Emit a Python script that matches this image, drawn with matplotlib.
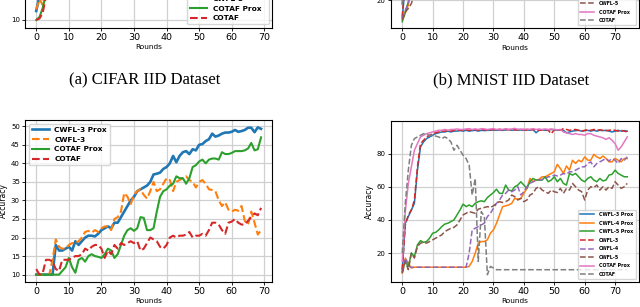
import numpy as np
import matplotlib
matplotlib.use("Agg")
import matplotlib.pyplot as plt

# ---- (a) CIFAR IID : only the first rounds are visible in the crop ----
cifar_iid_rounds = [0, 1, 2, 3, 4, 5]
cifar_iid_cwfl3_prox = [13.0, 18.0, 17.0, 24.0, 30.0, 35.0]
cifar_iid_cwfl3 = [13.5, 17.0, 15.0, 22.0, 29.0, 34.0]
cifar_iid_cotaf_prox = [10.0, 11.0, 14.0, 19.0, 25.0, 30.0]
cifar_iid_cotaf = [10.0, 10.5, 12.5, 18.0, 24.0, 29.0]

# ---- (b) MNIST IID : only the first rounds are visible in the crop ----
mnist_iid_rounds = [0, 1, 2, 3, 4, 5]
mnist_iid_cwfl3_prox = [9.0, 30.0, 60.0, 80.0, 88.0, 90.0]
mnist_iid_cwfl4_prox = [8.0, 12.0, 17.0, 30.0, 55.0, 75.0]
mnist_iid_cwfl5_prox = [7.0, 13.0, 19.0, 35.0, 60.0, 78.0]
mnist_iid_cwfl3 = [10.0, 32.0, 62.0, 82.0, 89.0, 91.0]
mnist_iid_cwfl4 = [9.0, 14.0, 18.0, 32.0, 56.0, 76.0]
mnist_iid_cwfl5 = [8.0, 13.0, 15.0, 18.0, 24.0, 50.0]
mnist_iid_cotaf_prox = [18.0, 45.0, 70.0, 85.0, 90.0, 92.0]
mnist_iid_cotaf = [17.0, 55.0, 78.0, 88.0, 91.0, 92.0]

# ---- CIFAR non-IID (bottom left), rounds 0..69 ----
cifar_rounds = list(range(70))
cifar_cwfl3_prox = [
    10, 10, 10, 10, 10, 10, 18, 16.5, 16.5, 17, 17.5, 16.5, 19, 18, 19, 20, 20.5, 20.5, 20.3, 21,
    22, 22.5, 23, 22.5, 24, 24, 25.5, 27, 28.5, 30, 31, 32.5, 33, 33.5, 34, 35, 37, 37.2, 37.5, 38.5,
    39, 40, 42, 40.3, 42, 43, 43.3, 42.5, 43.8, 43.5, 45, 45.2, 46, 46.5, 48, 47.2, 47.5, 48, 48.3, 48.3,
    48.5, 49, 48.5, 48.7, 49, 49.6, 49.6, 48.4, 49.7, 49.3]
cifar_cwfl3 = [
    10, 10, 10, 10, 10, 14, 19.5, 17.5, 17, 17, 18, 18.5, 18.5, 19, 20, 21.5, 21.8, 21.3, 22, 21.5,
    22.5, 23, 23, 22, 25, 25.5, 27, 32, 31, 29, 31.5, 32.5, 33, 31.5, 30.5, 32.5, 35, 32.5, 33, 34.5,
    36, 35.5, 32.5, 35, 35.5, 36, 36.5, 35.5, 35, 33.5, 35, 35.5, 34.5, 33, 32.8, 32.5, 30, 28.5, 29.5, 27.5,
    27, 27.5, 27.2, 28.5, 24.5, 23.5, 27, 24, 20.8, 22]
cifar_cotaf_prox = [
    10, 10, 10, 10, 10, 10, 10, 10, 11, 12, 14.5, 12, 10.5, 14, 14.5, 13.5, 15, 15.5, 15, 14.8,
    14.5, 15.5, 17, 16.5, 14.5, 15.5, 18, 20.5, 22, 22.5, 21.8, 22.5, 25.5, 25.3, 22, 22, 22.5, 27, 31, 32.5,
    33, 34, 34.5, 36.5, 36, 36, 34.5, 36, 39, 39.5, 40.5, 41, 40, 41, 41.3, 41.3, 41, 43, 42.5, 42.5,
    42.8, 43.3, 43.3, 43.3, 43.5, 44, 45.5, 43.5, 43.8, 47]
cifar_cotaf = [
    11.5, 10, 10.5, 14, 14, 13.5, 11.5, 11, 14, 14, 14, 14.5, 15, 15, 15.5, 17, 16.5, 17.5, 18, 18,
    17, 14.5, 16.5, 15.5, 18, 17, 18.5, 18, 18.5, 19, 18.5, 19, 16.5, 17, 18.5, 20, 19.5, 19, 17.5, 17,
    18, 20, 20.5, 20, 20.5, 20.5, 20.8, 21.5, 20, 20.5, 20.5, 21, 20.5, 22, 24, 24, 23.5, 22, 21, 24,
    24.3, 25, 24, 23.5, 23.5, 24.5, 25.5, 26.5, 26, 28]

# ---- MNIST non-IID (bottom right), rounds 0..74 ----
mnist_rounds = list(range(75))
mnist_cwfl3_prox = [
    10, 38, 42, 46, 50, 70, 84, 87, 89, 90, 91, 92, 92.5, 93, 93, 93.5, 93, 93.5, 93.5, 93.8,
    93.5, 94, 93.5, 93.8, 94, 93.5, 94, 93.8, 94, 94, 94.2, 94, 94.3, 94, 94.2, 94.5, 94, 94.3, 94, 94.2,
    94, 94.3, 94, 94.5, 92.5, 94, 94.3, 94, 94.2, 94.5, 94.3, 94, 94.2, 94, 92.5, 93, 93.5, 93.8, 94, 93.5,
    93.8, 94, 93.5, 94, 93.5, 94, 93.8, 94, 93.5, 93, 93.5, 94, 93.5, 93.8, 93.5]
mnist_cwfl4_prox = [
    8, 17, 14, 11, 11.5, 11.5, 11.5, 11.5, 11.5, 11.5, 11.5, 11.5, 11.5, 11.5, 11.5, 11.5, 11.5, 11.5, 11.5, 11.5,
    11.5, 11.5, 12, 15, 20, 26, 27, 27, 28, 32, 34, 38, 43, 48, 48.5, 49, 50, 53, 52.5, 53,
    56, 59, 65, 63, 64, 64.5, 66, 66, 67, 68, 69, 73.5, 71, 68, 72.5, 70, 76, 74, 76, 75,
    78, 76, 76, 79.5, 78, 77, 78.5, 77, 75, 75, 77, 76, 75, 77, 77]
mnist_cwfl5_prox = [
    9, 15, 12, 20, 18, 25, 27.5, 26.5, 27, 29, 32, 32.5, 34, 36, 37.5, 38, 39, 40, 43, 46,
    49.5, 48, 49, 48, 50, 51, 51.5, 51, 53.5, 55, 56.5, 58.5, 56, 56, 61, 58, 57.5, 60, 61, 63,
    61, 59, 63, 65, 64, 64, 64, 66, 63, 64, 66, 63, 65, 62, 61, 68, 67, 68, 66, 64,
    63, 65, 66, 64, 63, 65, 63.5, 64, 67, 67.5, 70, 68, 67, 66, 66]
mnist_cwfl3 = [
    10, 37, 43, 46, 52, 72, 86, 88, 90, 91, 92, 92.5, 93, 93.5, 93.5, 94, 93.5, 94, 94, 94.2,
    94, 94.3, 94, 94.2, 94.5, 94, 94.3, 94.5, 94, 94.3, 94.5, 94.2, 94.5, 94.3, 94.5, 94.3, 94.5, 94.2, 94.5, 94.3,
    94.5, 94, 94.5, 94.3, 94.5, 94, 94.3, 94.5, 94, 92, 94.3, 94.5, 94, 95, 94.5, 94, 94.3, 94.5, 94, 93.5,
    94, 94.3, 94, 94.5, 94, 94.3, 94, 93.8, 94, 94.3, 94, 93.5, 94, 93.5, 93]
mnist_cwfl4 = [
    8, 17, 12, 11.5, 11.5, 11.5, 11.5, 11.5, 11.5, 11.5, 11.5, 11.5, 11.5, 11.5, 11.5, 11.5, 11.5, 11.5, 11.5, 11.5,
    11.5, 11.5, 20, 34, 35, 36, 37, 38, 42, 44, 47, 50, 52, 55, 56, 58, 57, 58, 60, 55,
    57, 60, 62, 63, 64, 64, 64.5, 65, 66, 66, 67, 66.5, 67, 68, 67.5, 69, 69, 70, 71, 72,
    72, 74, 75, 72, 74, 75, 76, 77, 75.5, 77, 76, 74, 77, 76, 78]
mnist_cwfl5 = [
    8, 15, 10, 20, 17, 24, 26, 26.5, 26, 27, 28, 29, 30, 31, 33, 34, 35, 35.5, 37, 40,
    43, 44, 45, 44.5, 44, 46.5, 47, 47.5, 48, 47.5, 48.5, 50, 51, 50.5, 51, 52, 55, 54, 52, 53,
    51, 52, 55, 56, 59, 60, 58, 57, 56, 58, 57, 56.5, 59, 56, 59, 58, 62, 60, 58, 57,
    52, 58, 60, 59.5, 61, 58, 60, 58, 60, 59, 63, 61, 59, 60, 62]
mnist_cotaf_prox = [
    15, 45, 62, 72, 82, 86, 90, 91, 92, 92.5, 93, 93.5, 94, 94, 94.5, 94, 94.5, 94.5, 94.8, 94.5,
    94.5, 94.8, 95, 94.5, 94.8, 94.5, 95, 94.8, 94.5, 94.8, 95, 94.5, 94.8, 94.5, 95, 94.5, 94.8, 95.2, 94.5, 94.8,
    94.5, 94.8, 94.5, 95, 94.5, 94.8, 94.5, 94.8, 94.5, 94.8, 94.5, 94.3, 94.5, 93, 92.5, 92, 91.5, 92, 91.5, 91.5,
    91, 92, 92, 91, 90.5, 90, 89.5, 88.5, 89.5, 88, 86, 82, 84, 87, 90]
mnist_cotaf = [
    20, 50, 70, 85, 89, 90, 91, 92, 91.5, 91, 91, 90.5, 90, 89, 90, 89, 87, 82, 85, 82,
    79, 77, 73, 55, 65, 15, 45, 42, 7, 12, 11, 10, 10, 10, 10, 10, 10, 10, 10, 10,
    10, 10, 10, 10, 10, 10, 10, 10, 10, 10, 10, 10, 10, 10, 10, 10, 10, 10, 10, 10,
    10, 10, 10, 10, 10, 10, 10, 10, 10, 10, 10, 10, 10, 10, 10]

captions = ["(a) CIFAR IID Dataset", "(b) MNIST IID Dataset"]

W, H = 640, 307


def px_axes(fig, left, right, top, bottom):
    # pixel box (y from the top) -> figure fraction
    return fig.add_axes([left / W, 1 - bottom / H, (right - left) / W, (bottom - top) / H])


def style_axes(ax, ylabel=True):
    ax.grid(True, color="#d0d0d0", linewidth=0.9)
    ax.set_axisbelow(True)
    ax.set_xticks(range(0, 80, 10))
    ax.tick_params(axis="x", labelsize=6.8, length=2.5, pad=1.2, width=0.6)
    ax.tick_params(axis="y", labelsize=5.0, length=2.5, pad=1.2, width=0.6)
    for sp in ax.spines.values():
        sp.set_linewidth(0.8)
    ax.set_xlabel("Rounds", fontsize=5.3, labelpad=1.5)
    if ylabel:
        ax.set_ylabel("Accuracy", fontsize=5.5, labelpad=2)


def cifar_plot(ax, r, s1, s2, s3, s4, lw=1.5):
    ax.plot(r, s1, color="C0", lw=lw + 0.4, label="CWFL-3 Prox")
    ax.plot(r, s2, color="C1", lw=lw, ls="--", label="CWFL-3")
    ax.plot(r, s3, color="C2", lw=lw, label="COTAF Prox")
    ax.plot(r, s4, color="C3", lw=lw, ls="--", label="COTAF")


def mnist_plot(ax, r, series, lw=1.1):
    names = ["CWFL-3 Prox", "CWFL-4 Prox", "CWFL-5 Prox", "CWFL-3",
             "CWFL-4", "CWFL-5", "COTAF Prox", "COTAF"]
    styles = ["-", "-", "-", "--", "--", "--", "-", "--"]
    for i, (s, name, ls) in enumerate(zip(series, names, styles)):
        ax.plot(r, s, color=f"C{i}", lw=lw, ls=ls, label=name)


fig = plt.figure(figsize=(6.4, 3.07), dpi=100)

leg_a = dict(prop={"size": 5.3, "weight": "bold"}, handlelength=2.3, borderpad=0.4,
             labelspacing=0.5, handletextpad=0.8)
leg_b = dict(prop={"size": 3.4, "weight": "bold"}, handlelength=3.0, borderpad=0.5,
             labelspacing=0.75, handletextpad=1.0, borderaxespad=0.6)

# top-left (cropped CIFAR IID), only its lower edge is in the picture
ax = px_axes(fig, 25, 272.3, 28 - 162, 28)
cifar_plot(ax, cifar_iid_rounds, cifar_iid_cwfl3_prox, cifar_iid_cwfl3,
           cifar_iid_cotaf_prox, cifar_iid_cotaf)
ax.set_xlim(-3.45, 72.45)
ax.set_ylim(7.33, 61.33)
style_axes(ax, ylabel=False)
ax.set_yticks([10, 20, 30, 40, 50, 60])
ax.set_yticklabels(["10", "", "", "", "", ""])
ax.legend(loc="lower right", **leg_a)

# top-right (cropped MNIST IID)
ax = px_axes(fig, 391, 638.5, 28.3 - 161, 28.3)
mnist_plot(ax, mnist_iid_rounds,
           [mnist_iid_cwfl3_prox, mnist_iid_cwfl4_prox, mnist_iid_cwfl5_prox, mnist_iid_cwfl3,
            mnist_iid_cwfl4, mnist_iid_cwfl5, mnist_iid_cotaf_prox, mnist_iid_cotaf])
ax.set_xlim(-3.7, 77.7)
ax.set_ylim(3, 100.6)
style_axes(ax, ylabel=False)
ax.set_yticks([20, 40, 60, 80])
ax.set_yticklabels(["20", "", "", ""])
ax.legend(loc="lower right", **leg_b)

# captions
fig.text(144.5 / W, 1 - 80.5 / H, captions[0], family="Liberation Serif", fontsize=12,
         ha="center", va="center")
fig.text(511 / W, 1 - 80.5 / H, captions[1], family="Liberation Serif", fontsize=12,
         ha="center", va="center")

# bottom-left (CIFAR)
ax = px_axes(fig, 25, 272.3, 120, 282)
cifar_plot(ax, cifar_rounds, cifar_cwfl3_prox, cifar_cwfl3, cifar_cotaf_prox, cifar_cotaf)
style_axes(ax)
ax.legend(loc="upper left", **leg_a)

# bottom-right (MNIST)
ax = px_axes(fig, 391, 638.5, 121, 282)
mnist_plot(ax, mnist_rounds,
           [mnist_cwfl3_prox, mnist_cwfl4_prox, mnist_cwfl5_prox, mnist_cwfl3,
            mnist_cwfl4, mnist_cwfl5, mnist_cotaf_prox, mnist_cotaf])
style_axes(ax)
ax.set_yticks([20, 40, 60, 80])
ax.legend(loc="lower right", **leg_b)

fig.savefig("out.png", dpi=100)
